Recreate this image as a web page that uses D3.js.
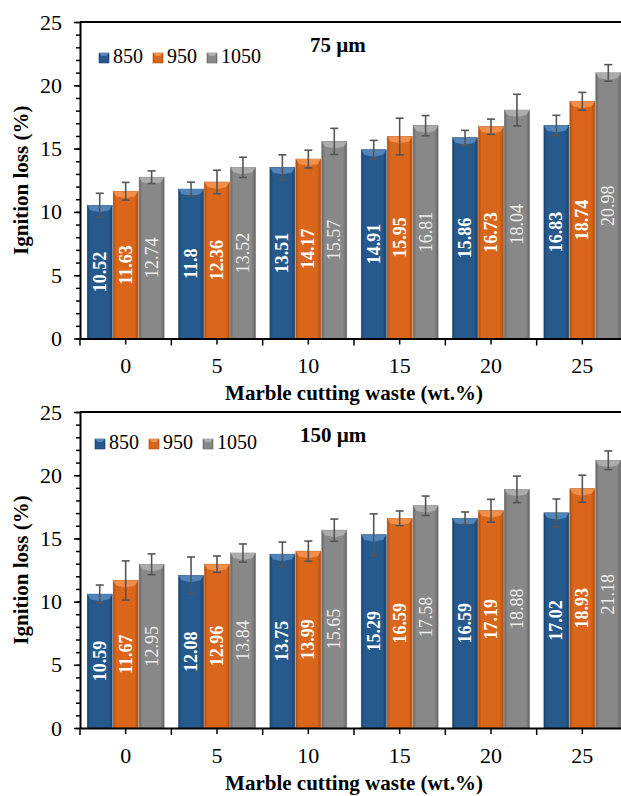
<!DOCTYPE html>
<html>
<head>
<meta charset="utf-8">
<script src="https://cdn.jsdelivr.net/npm/d3@7"></script>
<style>
  body { margin: 0; background: #fff; }
  svg { display: block; }
  svg text { font-family: "Liberation Serif", "Times New Roman", "DejaVu Serif", serif !important; }
</style>
</head>
<body>
<svg id="chart" width="621" height="796"></svg>
<script>
const categories = ["0", "5", "10", "15", "20", "25"];
const series = ["850", "950", "1050"];
const yTicks = [0, 5, 10, 15, 20, 25];

// 75 µm
const loss75_850 = [10.52, 11.8, 13.51, 14.91, 15.86, 16.83];
const loss75_950 = [11.63, 12.36, 14.17, 15.95, 16.73, 18.74];
const loss75_1050 = [12.74, 13.52, 15.57, 16.81, 18.04, 20.98];
const err75_850 = [0.95, 0.55, 1.0, 0.74, 0.58, 0.8];
const err75_950 = [0.7, 0.93, 0.7, 1.45, 0.6, 0.7];
const err75_1050 = [0.5, 0.8, 1.03, 0.8, 1.25, 0.65];

// 150 µm
const loss150_850 = [10.59, 12.08, 13.75, 15.29, 16.59, 17.02];
const loss150_950 = [11.67, 12.96, 13.99, 16.59, 17.19, 18.93];
const loss150_1050 = [12.95, 13.84, 15.65, 17.58, 18.88, 21.18];
const err150_850 = [0.72, 1.45, 0.96, 1.65, 0.5, 1.1];
const err150_950 = [1.55, 0.65, 0.8, 0.58, 0.9, 1.07];
const err150_1050 = [0.82, 0.72, 0.88, 0.77, 1.05, 0.74];

const colors = {
  "850": { main: "#26598c", edge: "#1b4470", top: "#5688bd" },
  "950": { main: "#d9661b", edge: "#b04f0f", top: "#f29250" },
  "1050": { main: "#888888", edge: "#676767", top: "#b0b0b0" },
};
const labelStyle = {
  "850": { fill: "#ffffff", weight: "bold" },
  "950": { fill: "#ffffff", weight: "bold" },
  "1050": { fill: "#ececec", weight: "normal" },
};

const svg = d3.select("#chart");
const defs = svg.append("defs");

series.forEach(s => {
  const g = defs.append("linearGradient")
    .attr("id", `grad_${s}`)
    .attr("x1", "0%").attr("x2", "100%").attr("y1", "0%").attr("y2", "0%");
  g.append("stop").attr("offset", "0%").attr("stop-color", colors[s].edge);
  g.append("stop").attr("offset", "12%").attr("stop-color", colors[s].main);
  g.append("stop").attr("offset", "85%").attr("stop-color", colors[s].main);
  g.append("stop").attr("offset", "100%").attr("stop-color", colors[s].edge);
});

const x0 = d3.scaleBand().domain(categories).range([80, 628]).padding(0);
const x1 = d3.scaleBand().domain(series).range([0, x0.bandwidth()]).paddingInner(0.04).paddingOuter(0.28);

function drawPanel(cfg) {
  const { top, bottom, title, values, errors, legendX, legendY, titleX, titleY, xTitleY } = cfg;
  const y = d3.scaleLinear().domain([0, 25]).range([bottom, top]);
  const g = svg.append("g");

  const rows = [];
  categories.forEach((c, i) => {
    series.forEach(s => {
      rows.push({ c, s, v: values[s][i], e: errors[s][i] });
    });
  });

  // bars
  const bar = g.selectAll(".bar").data(rows).enter().append("g").attr("class", "bar");
  bar.append("rect")
    .attr("x", d => x0(d.c) + x1(d.s))
    .attr("y", d => y(d.v))
    .attr("width", x1.bandwidth())
    .attr("height", d => y(0) - y(d.v))
    .attr("fill", d => `url(#grad_${d.s})`)
    .attr("stroke", d => colors[d.s].edge)
    .attr("stroke-width", 0.6);
  bar.append("path")
    .attr("d", d => {
      const xl = x0(d.c) + x1(d.s);
      const w = x1.bandwidth();
      const yt = y(d.v);
      return `M${xl},${yt} L${xl + w},${yt} L${xl + w - 3},${yt + 5} L${xl + w / 2},${yt + 7} L${xl + 3},${yt + 5} Z`;
    })
    .attr("fill", d => colors[d.s].top)
    .attr("opacity", 0.9);

  // value labels
  bar.append("text")
    .attr("transform", d => `translate(${x0(d.c) + x1(d.s) + x1.bandwidth() / 2 + 6},${(y(d.v) + y(0)) / 2}) rotate(-90)`)
    .attr("text-anchor", "middle")
    .attr("fill", d => labelStyle[d.s].fill)
    .style("font-weight", d => labelStyle[d.s].weight)
    .style("font-size", "18px")
    .text(d => d.v);

  // error bars
  const err = g.selectAll(".err").data(rows).enter().append("g")
    .attr("class", "err")
    .attr("stroke", "#555")
    .attr("stroke-width", 1.6);
  const cx = d => x0(d.c) + x1(d.s) + x1.bandwidth() / 2;
  err.append("line")
    .attr("x1", cx).attr("x2", cx)
    .attr("y1", d => y(d.v + d.e)).attr("y2", d => y(d.v - d.e));
  err.append("line")
    .attr("x1", d => cx(d) - 4).attr("x2", d => cx(d) + 4)
    .attr("y1", d => y(d.v + d.e)).attr("y2", d => y(d.v + d.e));
  err.append("line")
    .attr("x1", d => cx(d) - 4).attr("x2", d => cx(d) + 4)
    .attr("y1", d => y(d.v - d.e)).attr("y2", d => y(d.v - d.e));

  // y axis minor ticks
  g.append("g")
    .attr("transform", "translate(80,0)")
    .call(d3.axisLeft(y).tickValues(d3.range(0, 26, 1)).tickSize(4).tickFormat(""))
    .call(a => a.select(".domain").remove())
    .selectAll("line").attr("stroke", "#000").attr("stroke-width", 1.5);

  // y axis major
  const yAxis = g.append("g")
    .attr("transform", "translate(80,0)")
    .call(d3.axisLeft(y).tickValues(yTicks).tickSize(6).tickPadding(12).tickSizeOuter(0));
  yAxis.select(".domain").attr("stroke", "#000").attr("stroke-width", 2);
  yAxis.selectAll("line").attr("stroke", "#000").attr("stroke-width", 1.5);
  yAxis.selectAll("text")
    .attr("fill", "#000")
    .style("font-size", "22px");

  // x axis
  const xAxis = g.append("g")
    .attr("transform", `translate(0,${bottom})`)
    .call(d3.axisBottom(x0).tickSize(6).tickPadding(13).tickSizeOuter(0));
  xAxis.select(".domain").attr("stroke", "#000").attr("stroke-width", 2);
  xAxis.selectAll("line").attr("stroke", "#000").attr("stroke-width", 1.5);
  xAxis.selectAll("text")
    .attr("fill", "#000")
    .style("font-size", "22px");
  const bounds = categories.map(c => x0(c)).concat([x0.range()[1]]);
  g.selectAll(".btick").data(bounds).enter().append("line")
    .attr("x1", d => d).attr("x2", d => d)
    .attr("y1", bottom).attr("y2", bottom + 7)
    .attr("stroke", "#000").attr("stroke-width", 1.5);

  // top border
  g.append("line")
    .attr("x1", 80).attr("x2", 628)
    .attr("y1", top).attr("y2", top)
    .attr("stroke", "#000").attr("stroke-width", 2);

  // title
  g.append("text")
    .attr("x", titleX).attr("y", titleY)
    .style("font-weight", "bold").style("font-size", "21px")
    .text(title);

  // legend
  let lx = legendX;
  series.forEach(s => {
    const item = g.append("g").attr("transform", `translate(${lx},${legendY})`);
    item.append("rect")
      .attr("x", 0).attr("y", -10).attr("width", 10).attr("height", 10)
      .attr("fill", `url(#grad_${s})`)
      .attr("stroke", colors[s].edge).attr("stroke-width", 0.6);
    item.append("path")
      .attr("d", "M0,-10 L10,-10 L7,-7 L3,-7 Z")
      .attr("fill", colors[s].top);
    const t = item.append("text")
      .attr("x", 14).attr("y", 0)
      .style("font-size", "20px")
      .text(s);
    lx += 14 + t.node().getComputedTextLength() + 10;
  });

  // axis titles
  g.append("text")
    .attr("transform", `translate(28,${(top + bottom) / 2}) rotate(-90)`)
    .attr("text-anchor", "middle")
    .style("font-weight", "bold").style("font-size", "21px")
    .text("Ignition loss (%)");
  g.append("text")
    .attr("x", (80 + 628) / 2).attr("y", xTitleY)
    .attr("text-anchor", "middle")
    .style("font-weight", "bold").style("font-size", "21px")
    .text("Marble cutting waste (wt.%)");
}

drawPanel({
  top: 22, bottom: 338.5, title: "75 µm",
  values: { "850": loss75_850, "950": loss75_950, "1050": loss75_1050 },
  errors: { "850": err75_850, "950": err75_950, "1050": err75_1050 },
  legendX: 99, legendY: 63, titleX: 310, titleY: 52, xTitleY: 400,
});

drawPanel({
  top: 412, bottom: 728, title: "150 µm",
  values: { "850": loss150_850, "950": loss150_950, "1050": loss150_1050 },
  errors: { "850": err150_850, "950": err150_950, "1050": err150_1050 },
  legendX: 95, legendY: 449, titleX: 300, titleY: 442, xTitleY: 790,
});
</script>
</body>
</html>
